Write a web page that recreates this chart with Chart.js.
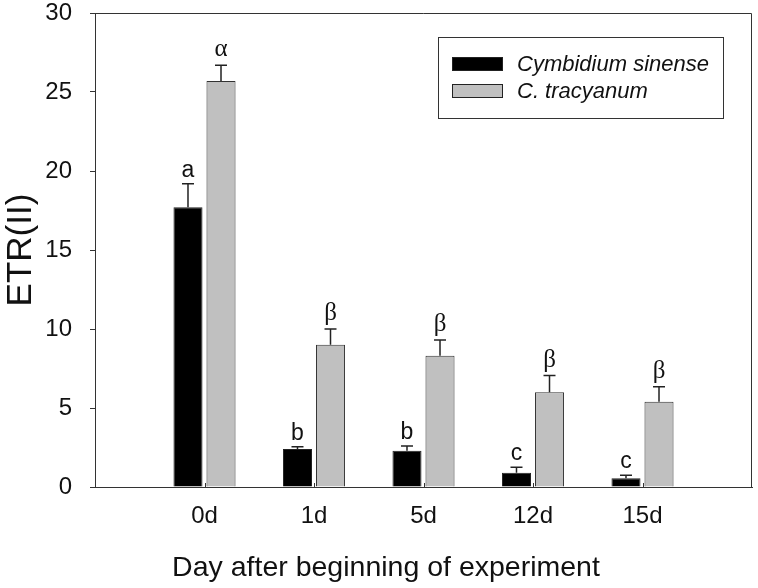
<!DOCTYPE html>
<html>
<head>
<meta charset="utf-8">
<script src="https://cdn.jsdelivr.net/npm/chart.js@4"></script>
<style>
  html, body { margin: 0; padding: 0; background: #fff; }
  #wrap { width: 758px; height: 588px; }
</style>
</head>
<body>
<div id="wrap"><canvas id="etrChart"></canvas></div>
<script>
// 数据：横轴分类（两端留空位）、两个品种的均值、误差与显著性字母
const days = ['', '0d', '1d', '5d', '12d', '15d', '']
const sinense = [null, 17.7, 2.4, 2.3, 0.9, 0.55, null]
const sinenseErr = [null, 1.5, 0.15, 0.3, 0.35, 0.2, null]
const sinenseLetters = ['', 'a', 'b', 'b', 'c', 'c', '']
const tracyanum = [null, 25.7, 9.0, 8.3, 6.0, 5.4, null]
const tracyanumErr = [null, 1.0, 1.0, 1.0, 1.05, 0.95, null]
const tracyanumLetters = ['', 'α', 'β', 'β', 'β', 'β', '']
const yTicks = [0, 5, 10, 15, 20, 25, 30]
const xTitle = 'Day after beginning of experiment'

const errs = [sinenseErr, tracyanumErr]
const letters = [sinenseLetters, tracyanumLetters]
const sans = 'Liberation Sans, Arial, sans-serif'

// 误差线 + 字母标注
const errorBarPlugin = {
  id: 'errorBars',
  afterDatasetsDraw(chart) {
    const ctx = chart.ctx
    const y = chart.scales.y
    chart.data.datasets.forEach((ds, i) => {
      const meta = chart.getDatasetMeta(i)
      meta.data.forEach((bar, j) => {
        const v = ds.data[j]
        if (v == null) return
        const top = y.getPixelForValue(v + errs[i][j])
        ctx.save()
        ctx.strokeStyle = '#222'
        ctx.lineWidth = 1.5
        ctx.beginPath()
        ctx.moveTo(bar.x, bar.y)
        ctx.lineTo(bar.x, top)
        ctx.moveTo(bar.x - 6, top)
        ctx.lineTo(bar.x + 6, top)
        ctx.stroke()
        const t = letters[i][j]
        const greek = /[α-ω]/.test(t)
        ctx.fillStyle = '#111'
        ctx.textAlign = 'center'
        ctx.textBaseline = 'alphabetic'
        ctx.font = greek ? '25px Liberation Serif, serif' : '23px ' + sans
        ctx.fillText(t, bar.x, top - (greek ? 9 : 7))
        ctx.restore()
      })
    })
  }
}

// 外框、x 轴内向刻度、x 轴标题、图例
const framePlugin = {
  id: 'frame',
  afterDraw(chart) {
    const ctx = chart.ctx
    const a = chart.chartArea
    const x = chart.scales.x
    ctx.save()
    ctx.strokeStyle = '#333'
    ctx.lineWidth = 1
    ctx.beginPath()
    ctx.moveTo(a.left, a.top + 0.5)
    ctx.lineTo(a.right - 0.5, a.top + 0.5)
    ctx.lineTo(a.right - 0.5, a.bottom)
    ctx.stroke()
    days.forEach((d, i) => {
      if (!d) return
      const px = Math.round(x.getPixelForValue(i)) + 0.5
      ctx.beginPath()
      ctx.moveTo(px, a.bottom)
      ctx.lineTo(px, a.bottom - 4)
      ctx.stroke()
    })

    // x 轴标题（原图相对整幅图居中）
    ctx.fillStyle = '#111'
    ctx.font = '28.5px ' + sans
    ctx.textAlign = 'center'
    ctx.textBaseline = 'alphabetic'
    ctx.fillText(xTitle, 386, 576)

    // 图例
    const lx = a.right - 314, ly = a.top + 24
    ctx.strokeRect(lx + 0.5, ly + 0.5, 285, 81)
    chart.data.datasets.forEach((ds, i) => {
      const sy = ly + 20 + i * 27
      ctx.fillStyle = ds.backgroundColor
      ctx.fillRect(lx + 14, sy, 51, 14)
      ctx.strokeStyle = '#222'
      ctx.strokeRect(lx + 14.5, sy + 0.5, 50, 13)
      ctx.fillStyle = '#111'
      ctx.font = 'italic 22px ' + sans
      ctx.textBaseline = 'middle'
      ctx.textAlign = 'left'
      ctx.fillText(ds.label, lx + 79, sy + 8)
    })
    ctx.restore()
  }
}

new Chart(document.getElementById('etrChart'), {
  type: 'bar',
  data: {
    labels: days,
    datasets: [
      {
        label: 'Cymbidium sinense',
        data: sinense,
        backgroundColor: '#000000',
        borderColor: '#222',
        borderWidth: 1,
        categoryPercentage: 0.603,
        barPercentage: 0.88
      },
      {
        label: 'C. tracyanum',
        data: tracyanum,
        backgroundColor: '#c0c0c0',
        borderColor: '#333',
        borderWidth: 1,
        categoryPercentage: 0.603,
        barPercentage: 0.88
      }
    ]
  },
  options: {
    responsive: true,
    maintainAspectRatio: false,
    animation: false,
    layout: { padding: { top: 13, right: 6, left: 0, bottom: 0 } },
    plugins: {
      legend: { display: false },
      tooltip: { enabled: false }
    },
    scales: {
      x: {
        offset: false,
        afterFit: s => { s.height = 101; s.paddingLeft = 0; s.paddingRight = 0 },
        grid: { display: false },
        border: { color: '#333', width: 1 },
        ticks: {
          color: '#111',
          font: { family: sans, size: 24 },
          padding: 7,
          autoSkip: false,
          maxRotation: 0
        }
      },
      y: {
        min: 0,
        max: 30,
        afterFit: s => { s.width = 95; s.paddingTop = 0; s.paddingBottom = 0 },
        afterBuildTicks: s => { s.ticks = yTicks.map(v => ({ value: v })) },
        grid: { drawOnChartArea: false, drawTicks: true, tickLength: 5, color: '#333' },
        border: { color: '#333', width: 1 },
        ticks: {
          color: '#111',
          font: { family: sans, size: 24 },
          padding: 18
        },
        title: {
          display: true,
          text: 'ETR(II)',
          color: '#111',
          font: { family: sans, size: 35 },
          padding: { top: 0, bottom: 0 }
        }
      }
    }
  },
  plugins: [errorBarPlugin, framePlugin]
})
</script>
</body>
</html>
